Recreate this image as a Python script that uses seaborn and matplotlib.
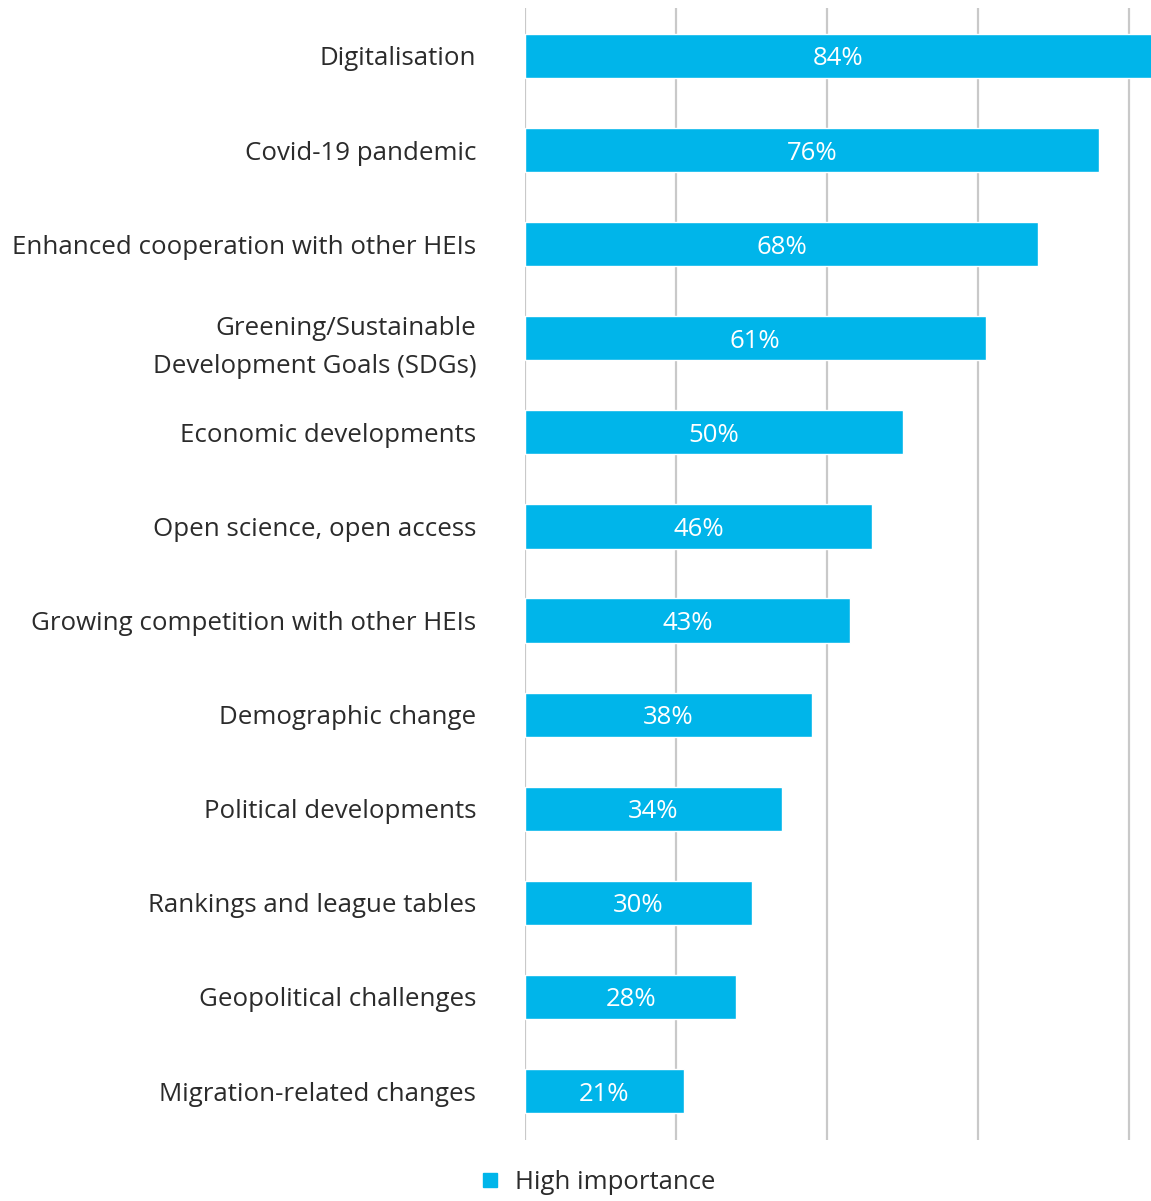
import matplotlib
matplotlib.use("Agg")
import matplotlib.pyplot as plt
from matplotlib.lines import Line2D
import seaborn as sns
import pandas as pd

categories = [
    "Digitalisation",
    "Covid-19 pandemic",
    "Enhanced cooperation with other HEIs",
    "Greening/Sustainable\nDevelopment Goals (SDGs)",
    "Economic developments",
    "Open science, open access",
    "Growing competition with other HEIs",
    "Demographic change",
    "Political developments",
    "Rankings and league tables",
    "Geopolitical challenges",
    "Migration-related changes",
]
values = [84, 76, 68, 61, 50, 46, 43, 38, 34, 30, 28, 21]
series_name = "High importance"

BAR_COLOR = "#00b5ea"
TEXT_COLOR = "#2b2b2b"

sns.set_theme(style="white")
plt.rcParams["font.family"] = ["Open Sans", "DejaVu Sans"]

df = pd.DataFrame({"category": categories, "value": values})

fig = plt.figure(figsize=(11.51, 12.01), dpi=100)
ax = fig.add_axes([0.4561, 0.0508, 0.5439, 0.9426])

sns.barplot(data=df, y="category", x="value", orient="h", color=BAR_COLOR,
            width=0.47, saturation=1, ax=ax)

ax.set_xlim(0, 82.9)
ax.set_ylim(11.52, -0.51)
ax.set_xticks([0, 20, 40, 60, 80])
ax.set_xticklabels([])
ax.xaxis.grid(True, color="#c9c9c9", linewidth=1.6)
ax.set_axisbelow(True)
for s in ax.spines.values():
    s.set_visible(False)
ax.tick_params(axis="x", length=0)
ax.tick_params(axis="y", length=0, pad=35, labelsize=18.6, labelcolor=TEXT_COLOR)
ax.set_xlabel("")
ax.set_ylabel("")
for lbl in ax.get_yticklabels():
    lbl.set_multialignment("right")
    lbl.set_linespacing(1.65)
    lbl.set_fontweight("medium")

for cont in ax.containers:
    texts = ax.bar_label(cont, labels=[f"{v}%" for v in values], label_type="center",
                         color="white", fontsize=18.5)
    for t in texts:
        t.set_va("center_baseline")

handle = Line2D([], [], marker="s", linestyle="none", markersize=10,
                markerfacecolor=BAR_COLOR, markeredgecolor=BAR_COLOR)
fig.legend([handle], [series_name], loc="center", bbox_to_anchor=(0.518, 0.015),
           frameon=False, fontsize=18.5, handletextpad=0.5, handlelength=1.0,
           labelcolor=TEXT_COLOR, prop={"size": 18.5, "weight": "medium"})

fig.savefig("out.png", dpi=100, facecolor="white")
